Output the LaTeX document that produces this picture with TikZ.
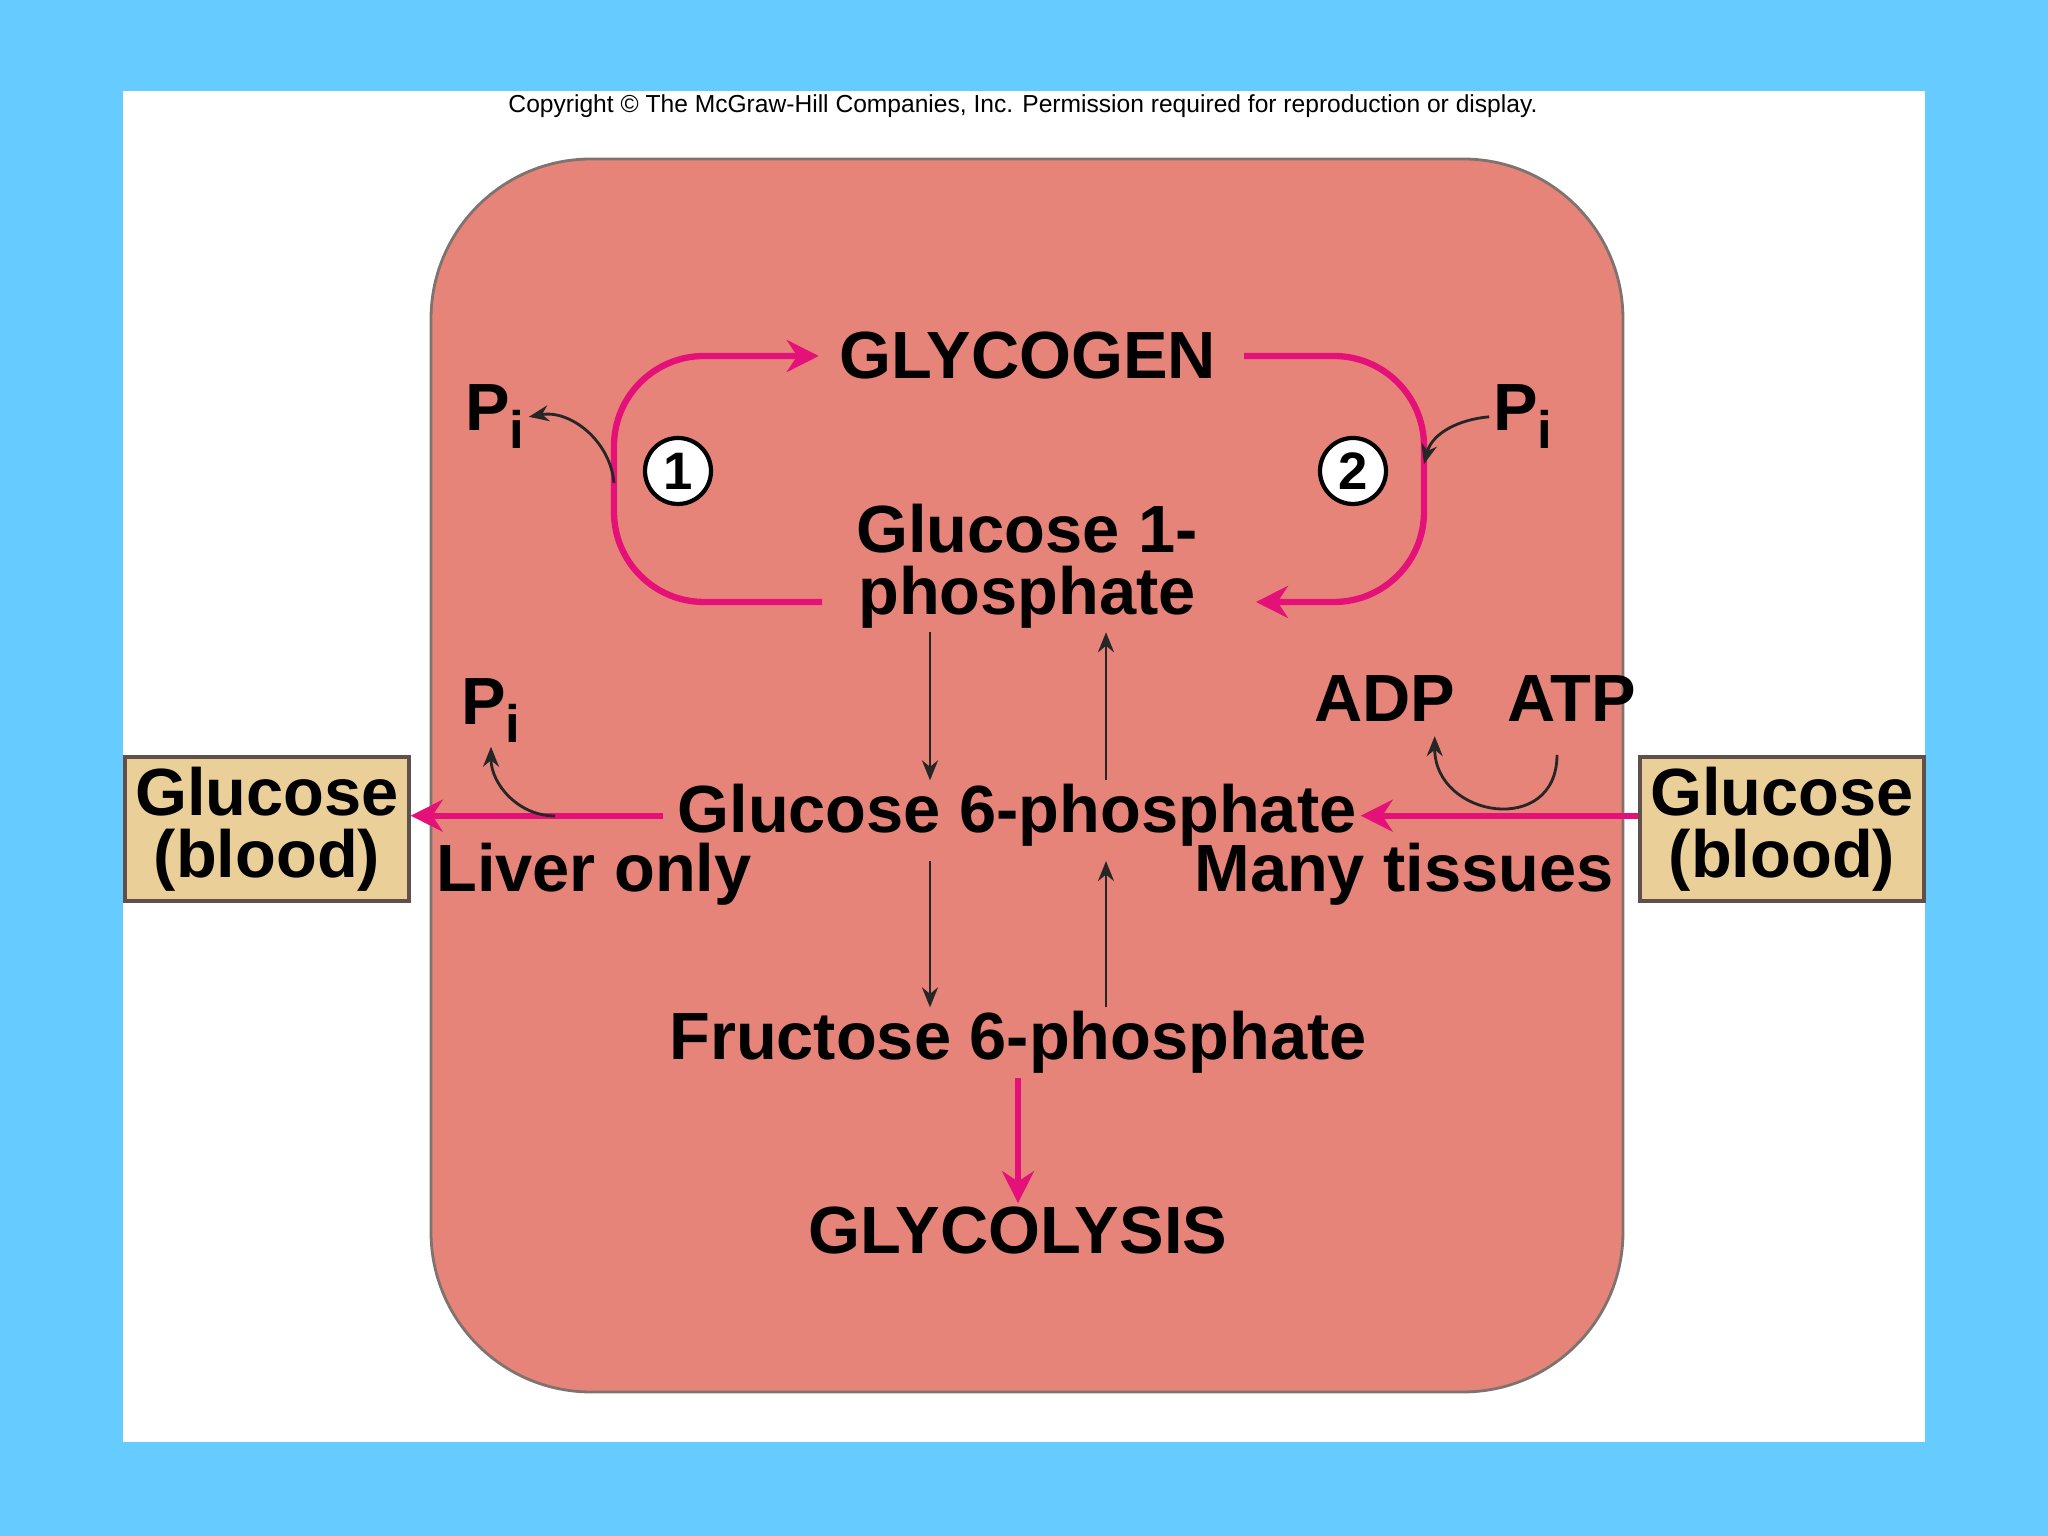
\documentclass[tikz,border=0pt]{standalone}
\usepackage{fontspec}
\setmainfont{Liberation Sans}
\usetikzlibrary{arrows.meta, positioning, calc}
\definecolor{cSky}{RGB}{102,204,255}
\definecolor{cCell}{RGB}{230,132,122}
\definecolor{cMagenta}{RGB}{228,18,120}
\definecolor{cTan}{RGB}{234,208,152}
\definecolor{cEdge}{RGB}{95,80,75}
\newcommand{\Pphos}{P\raisebox{-5pt}{\fontsize{15}{15}\selectfont i}}
\tikzset{
	metab/.style ={font=\fontsize{19}{17.6}\selectfont\bfseries, inner sep=1pt, align=center},
	blood/.style ={rectangle, draw=cEdge, line width=1pt, fill=cTan, minimum width=2.84cm, minimum height=1.44cm, inner sep=0pt, align=center, font=\fontsize{19}{17.6}\selectfont\bfseries},
	enz/.style   ={circle, draw=black, line width=1.2pt, fill=white, minimum size=0.66cm, inner sep=0pt, font=\fontsize{15}{15}\selectfont\bfseries},
	flux/.style  ={-{Stealth[length=3.2mm, width=3.2mm]}, cMagenta, line width=1.8pt},
	side/.style  ={-{Stealth[length=2mm, width=1.6mm]}, black!85, line width=0.8pt},
}
\begin{document}
\begin{tikzpicture}
	% backdrop and cell
	\fill[cSky] (0,0) rectangle (20.48,15.36);
	\fill[white] (1.23,0.94) rectangle (19.25,14.45);
	\node[font=\fontsize{7}{8}\selectfont] (copy) at (10.23,14.30) {Copyright \textcopyright{} The McGraw-Hill Companies, Inc. Permission required for reproduction or display.};
	\draw[fill=cCell, draw=cEdge!80, line width=0.8pt, rounded corners=1.6cm] (4.31,1.44) rectangle (16.23,13.77);
	% metabolites
	\node[metab, anchor=base] (glycogen) at (10.28,11.57) {GLYCOGEN};
	\node[metab] (g1p) at (10.27,9.70) {Glucose 1-\\phosphate};
	\node[metab, anchor=base] (g6p) at (10.17,7.03) {Glucose 6-phosphate};
	\node[metab, anchor=base] (f6p) at (10.18,4.76) {Fructose 6-phosphate};
	\node[metab, anchor=base] (glyco) at (10.18,2.82) {GLYCOLYSIS};
	\node[blood] (bloodL) at (2.67,7.07) {Glucose\\(blood)};
	\node[blood] (bloodR) at (17.82,7.07) {Glucose\\(blood)};
	\node[metab, anchor=base west] (liver) at (4.32,6.44) {Liver only};
	\node[metab, anchor=base east] (many) at (16.18,6.44) {Many tissues};
	\node[metab, anchor=base] (piA) at (4.95,11.05) {\Pphos};
	\node[metab, anchor=base] (piB) at (15.23,11.05) {\Pphos};
	\node[metab, anchor=base] (piC) at (4.91,8.11) {\Pphos};
	\node[metab, anchor=base] (adp) at (13.85,8.14) {ADP};
	\node[metab, anchor=base] (atp) at (15.72,8.14) {ATP};
	\node[enz] (n1) at (6.78,10.65) {1};
	\node[enz] (n2) at (13.53,10.65) {2};
	% helper points
	\coordinate (xa) at (9.30,0);
	\coordinate (xb) at (11.06,0);
	\coordinate (c1) at (6.14,10.53);
	\coordinate (c2) at (14.24,10.72);
	\coordinate (c3) at (5.55,7.20);
	\coordinate (c4) at (15.57,7.81);
	\coordinate (k2) at (14.24,9.34);
	% glycogen loops
	\draw[flux, rounded corners=9mm] ([xshift=-3mm,yshift=-3.6mm]g1p.west) -| (c1 |- glycogen.west) -- ([xshift=-1.7mm]glycogen.west);
	\draw[flux, rounded corners=9mm] ([xshift=2.4mm]glycogen.east) -| (k2) -- ([xshift=5.4mm,yshift=-3.6mm]g1p.east);
	% blood glucose
	\draw[flux] ([xshift=-1mm]g6p.west) -- (g6p.west -| bloodL.east);
	\draw[flux] (bloodR.west |- g6p.east) -- (g6p.east);
	\draw[flux] (f6p.south) -- (glyco.north);
	% interconversions
	\draw[side] (g1p.south -| xa) -- (g6p.north -| xa);
	\draw[side] (g6p.north -| xb) -- (g1p.south -| xb);
	\draw[side, shorten <=1mm] (g6p.south -| xa) -- (f6p.north -| xa);
	\draw[side, shorten >=1mm] (f6p.north -| xb) -- (g6p.south -| xb);
	% side products
	\draw[side] (c1) to[out=95, in=10] (piA.east);
	\draw[side] (piB.west) to[out=185, in=75] (c2);
	\draw[side] (c3) to[out=180, in=-90] (piC.south);
	\draw[side] (c4) to[out=-90, in=-90, looseness=1.7] ([xshift=-2.5mm,yshift=-1mm]adp.south east);
\end{tikzpicture}
\end{document}
